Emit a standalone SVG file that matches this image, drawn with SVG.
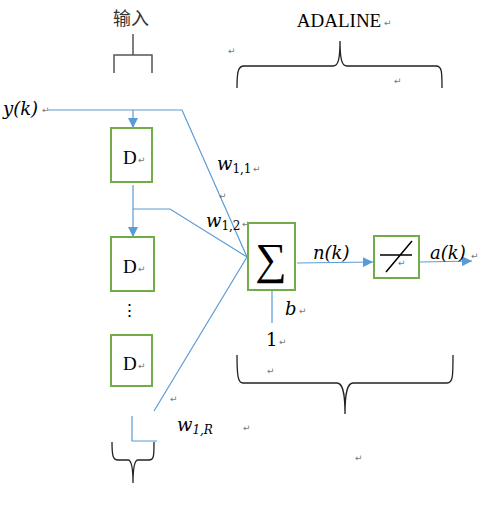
<svg xmlns="http://www.w3.org/2000/svg" width="478" height="508" viewBox="0 0 478 508">
<style>
.box{fill:#fff;stroke:#70AD47;stroke-width:2}
.ln{fill:none;stroke:#5B9BD5;stroke-width:1.2}
.br{fill:none;stroke:#222;stroke-width:1.3}
.t{font-family:"DejaVu Serif","Liberation Serif",serif;fill:#000}
.v{font-family:"DejaVu Serif","Liberation Serif",serif;font-style:italic;fill:#000}
.d{font-family:"Liberation Serif",serif;font-size:19px;fill:#000}
.p{font-family:"DejaVu Sans",sans-serif;font-size:9px;fill:#777}
</style>
<defs>
<marker id="ah" viewBox="0 0 10 10" refX="10" refY="5" markerWidth="10" markerHeight="10" markerUnits="userSpaceOnUse" orient="auto">
<path d="M0,0 L10,5 L0,10 Z" fill="#5B9BD5"/>
</marker>
</defs>
<rect width="478" height="508" fill="#fff"/>

<g id="labels-top">
<text x="131" y="25" font-size="18" text-anchor="middle" style="font-family:'Noto Sans CJK SC',sans-serif;fill:#333">输入</text>
<path d="M133,34 V55 M114,73 V55 H152 V73" fill="none" stroke="#555" stroke-width="1.5"/>
<text x="339" y="27" font-size="19" text-anchor="middle" style="font-family:'Liberation Serif',serif">ADALINE</text>
<text class="p" x="384" y="26">↵</text>
<text class="p" x="228" y="54">↵</text>
<path class="br" d="M237,88 C237,72 238,66 244,66 H333 C338,66 340,60 340,41 C340,60 342,66 347,66 H436 C442,66 442,72 442,88"/>
<text class="p" x="394" y="84">↵</text>
</g>

<g id="connectors">
<path class="ln" d="M48,110 H182 L247,257"/>
<path class="ln" d="M133,110 V128" marker-end="url(#ah)"/>
<path class="ln" d="M133,185 V237" marker-end="url(#ah)"/>
<path class="ln" d="M133,209 H170 L247,257"/>
<path class="ln" d="M247,257 L154,411"/>
<path class="ln" d="M132,416 V441 H157"/>
<path class="ln" d="M272,290 V323"/>
<path class="ln" d="M297,263 L373,262" marker-end="url(#ah)"/>
<path class="ln" d="M420,262 L472,261" marker-end="url(#ah)"/>
</g>

<g id="input">
<text class="v" x="3" y="115" font-size="18">y(k)</text>
<text class="p" x="42" y="113">↵</text>
</g>

<g id="d1">
<rect class="box" x="111" y="128" width="41" height="54"/>
<text class="d" x="123" y="164">D</text>
<text class="p" x="138" y="163">↵</text>
</g>
<g id="d2">
<rect class="box" x="111" y="237" width="43" height="54"/>
<text class="d" x="123" y="273">D</text>
<text class="p" x="138" y="272">↵</text>
</g>
<text class="t" x="129" y="316" font-size="17" text-anchor="middle">⋮</text>
<g id="d3">
<rect class="box" x="111" y="335" width="41" height="51"/>
<text class="d" x="123" y="370">D</text>
<text class="p" x="138" y="369">↵</text>
</g>

<g id="weights">
<text class="v" x="217" y="170" font-size="18">w<tspan font-size="12" font-style="normal" dy="3">1,1</tspan></text>
<text class="p" x="253" y="172">↵</text>
<text class="p" x="219" y="199">↵</text>
<text class="v" x="206" y="227" font-size="18">w<tspan font-size="12" font-style="normal" dy="3">1,2</tspan></text>
<text class="p" x="242" y="227">↵</text>
<text class="p" x="170" y="402">↵</text>
<text class="v" x="177" y="431" font-size="18">w<tspan font-size="12" dy="3">1,R</tspan></text>
<text class="p" x="243" y="431">↵</text>
</g>

<g id="sum">
<rect class="box" x="248" y="223" width="47" height="67"/>
<text x="271" y="274" font-size="44" text-anchor="middle" style="font-family:'Liberation Serif',serif">∑</text>
</g>
<g id="bias">
<text class="v" x="285" y="315" font-size="18">b</text>
<text class="p" x="299" y="314">↵</text>
<text class="t" x="266" y="346" font-size="18">1</text>
<text class="p" x="279" y="345">↵</text>
</g>
<text class="v" x="313" y="259" font-size="18">n(k)</text>

<g id="act">
<rect class="box" x="374" y="236" width="45" height="42"/>
<path d="M380,255 H412 M386,272 L412,241" stroke="#000" stroke-width="1.5" fill="none"/>
<text class="p" x="398" y="266">↵</text>
</g>
<text class="v" x="430" y="259" font-size="18">a(k)</text>
<text class="p" x="471" y="259">↵</text>

<g id="braces-bottom">
<path class="br" d="M112,442 C112,456 113,460 118,460 H128 C131,460 133,465 133,483 C133,465 135,460 138,460 H149 C154,460 154,456 154,442"/>
<path class="br" d="M237,355 C237,376 238,383 243,383 H337 C342,383 345,390 345,414 C345,390 348,383 353,383 H447 C453,383 453,376 453,355"/>
<text class="p" x="267" y="374">↵</text>
<text class="p" x="355" y="461">↵</text>
</g>
</svg>
